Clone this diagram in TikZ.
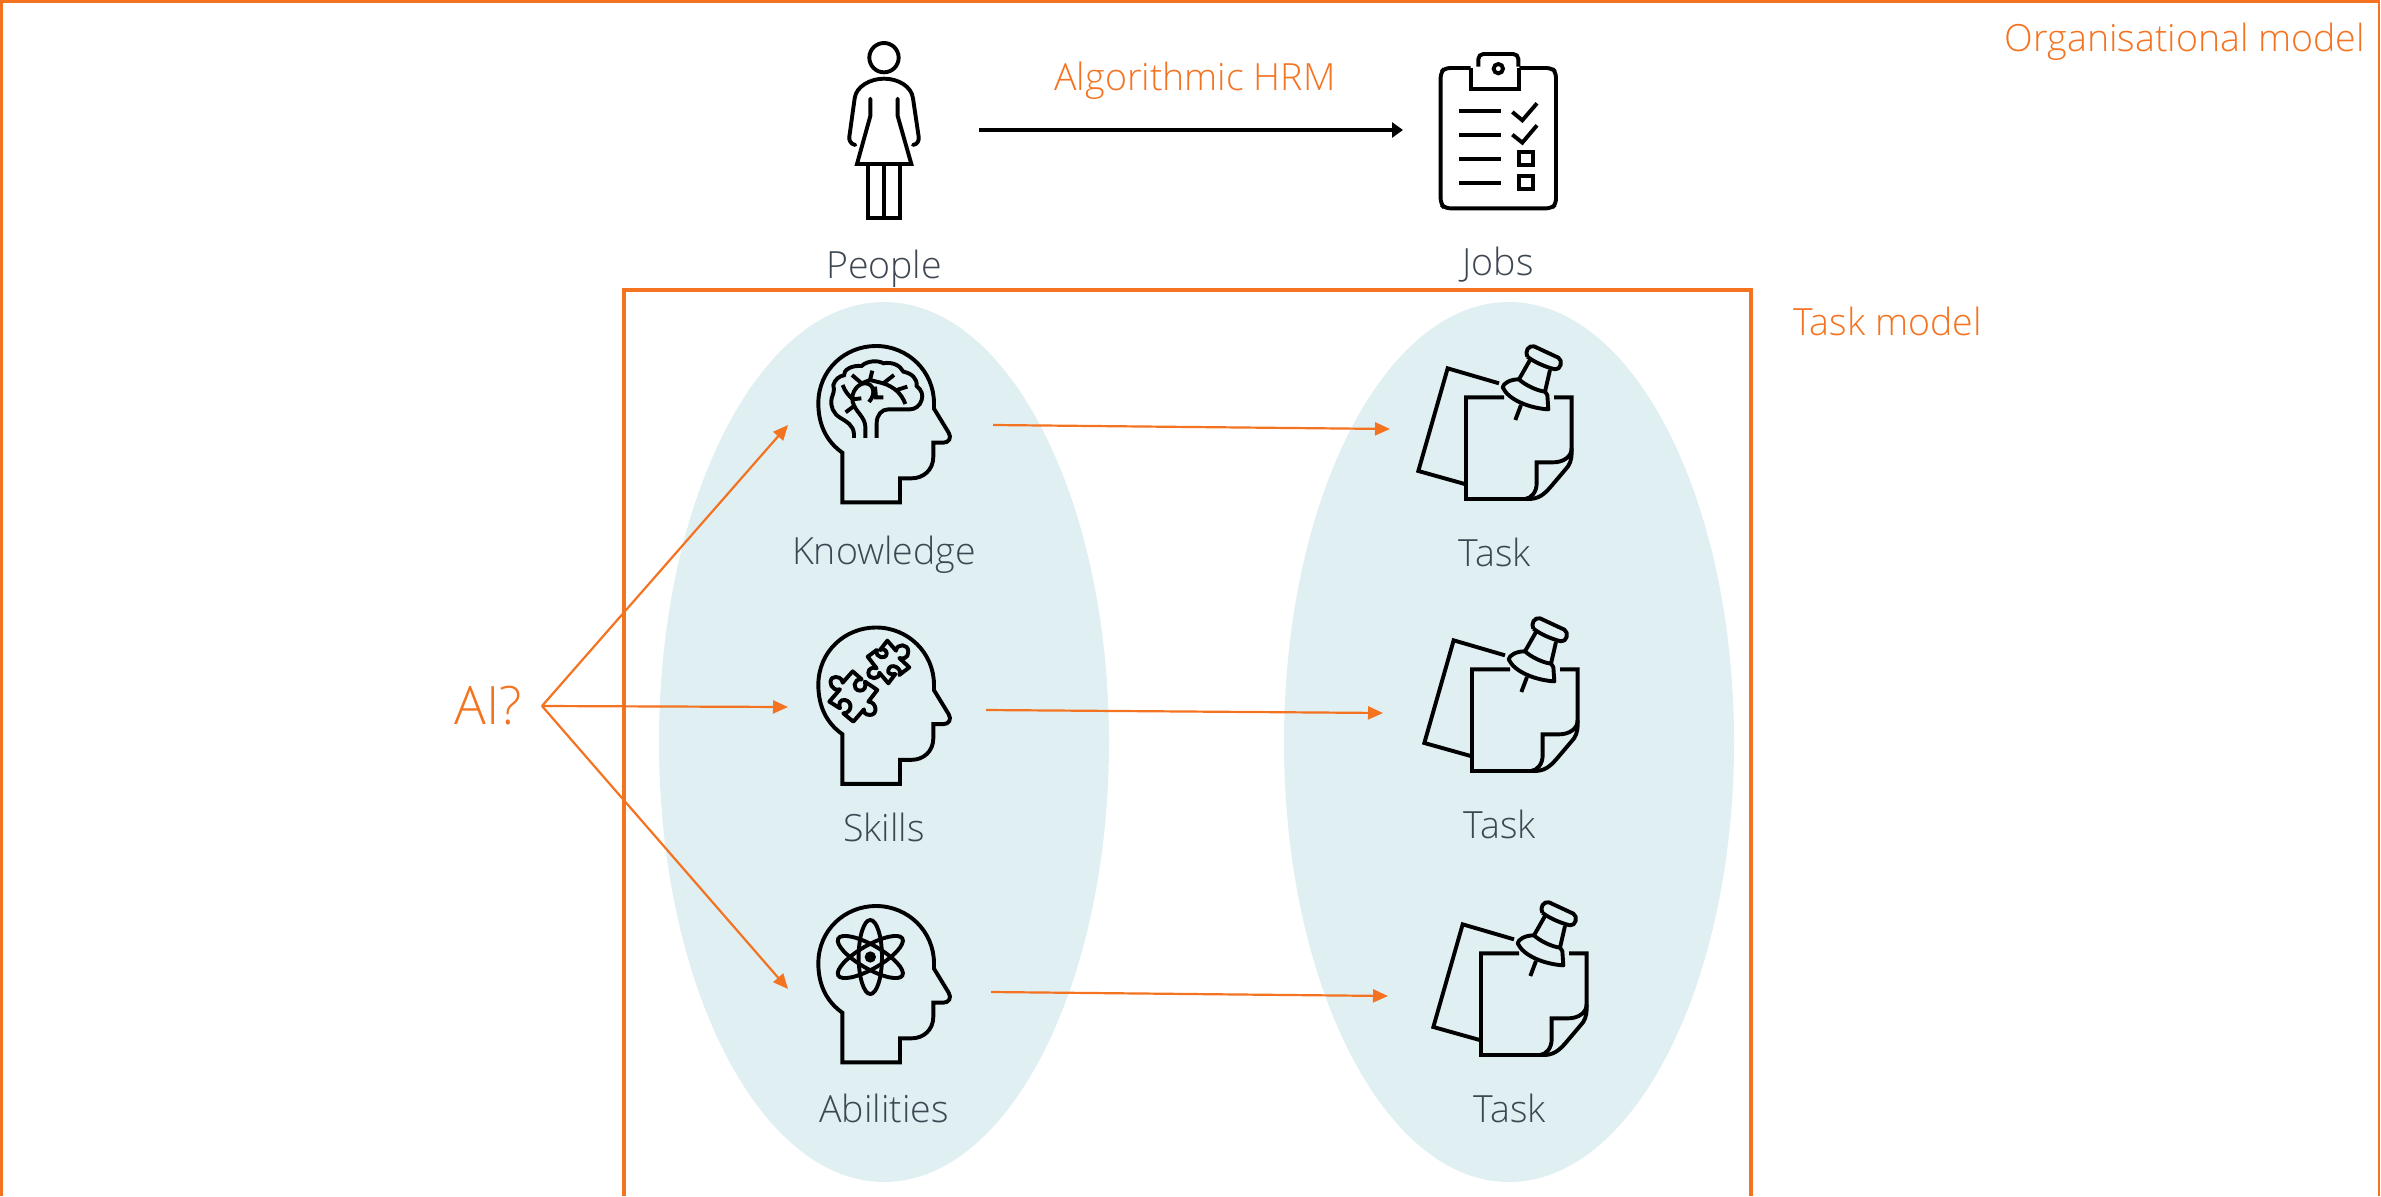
\documentclass[tikz,border=0pt]{standalone}
\usepackage{fontspec}
\setmainfont{Open Sans Light}
\usetikzlibrary{arrows.meta}
\definecolor{hrmorange}{HTML}{F47320}
\definecolor{paleblue}{HTML}{E0EFF2}
\definecolor{labelgrey}{HTML}{3D4752}
\tikzset{
  x=1pt,y=-1pt,
  icon/.style={draw=black,line width=3.9pt,line cap=butt,line join=miter},
  iconb/.style={icon,x=0.3333pt,y=-0.3333pt},
  orangeline/.style={draw=hrmorange,line width=2.2pt,-{Triangle[length=15pt,width=13pt]}},
  frame/.style={draw=hrmorange,line width=3.5pt},
  lab/.style={text=labelgrey,font=\fontsize{37.5}{44}\selectfont,inner sep=0pt,anchor=base},
  olab/.style={text=hrmorange,font=\fontsize{37.5}{44}\selectfont,inner sep=0pt,anchor=base},
  headshape/.pic={
    \draw[iconb] (187,398) .. controls (140,365) and (115,315) .. (115,250)
      .. controls (115,150) and (195,78) .. (288,78)
      .. controls (385,78) and (462,155) .. (462,250) -- (462,266) -- (506,338)
      .. controls (516,354) and (506,368) .. (490,368) -- (460,368) -- (460,410)
      .. controls (460,450) and (430,475) .. (395,475) -- (360,475) -- (360,547) -- (187,547) -- cycle;
  },
  notepic/.pic={
    \draw[iconb] (327,190) -- (173,145) -- (85,453) -- (224,492);
    \draw[iconb] (342,232) -- (228,232) -- (228,537) -- (415,537)
      .. controls (445,537) and (460,525) .. (480,503) -- (525,450)
      .. controls (540,435) and (545,420) .. (545,395) -- (545,232) -- (492,232);
    \draw[iconb] (405,537) .. controls (425,535) and (440,515) .. (440,490) -- (440,427) -- (490,427)
      .. controls (520,427) and (545,410) .. (545,385);
    \draw[iconb,line join=round] (412,110) .. controls (404,95) and (415,75) .. (432,79) -- (505,113)
      .. controls (520,122) and (512,150) .. (495,148) .. controls (470,142) and (435,128) .. (412,110);
    \draw[iconb,line join=round] (420,120) -- (387,178) .. controls (405,195) and (440,212) .. (465,215) -- (480,150);
    \draw[iconb,line join=round] (387,178) .. controls (360,178) and (340,190) .. (338,202)
      .. controls (355,240) and (420,265) .. (475,268) -- (472,225) -- (465,215);
    \draw[iconb] (393,255) -- (376,300);
  },
}
\begin{document}
\begin{tikzpicture}
\useasboundingbox (0,0) rectangle (2381,1196);
% frames and ellipses
\draw[draw=hrmorange,line width=2.6pt] (1.2,1196) -- (1.2,1.3) -- (2379,1.3) -- (2379,1196);
\fill[paleblue] (884,742) ellipse [x radius=225,y radius=440];
\fill[paleblue] (1509,742) ellipse [x radius=225,y radius=440];
\draw[frame] (624,1196) -- (624,290) -- (1751,290) -- (1751,1196);
% labels
\node[olab,anchor=base east] (orgmodel) at (2365,52) {Organisational model};
\node[olab,anchor=base west] (taskmodel) at (1793,335) {Task model};
\node[olab] (hrm) at (1195,91) {Algorithmic HRM};
\node[lab] (people) at (884,278) {People};
\node[lab] (jobs) at (1498,275) {Jobs};
\node[lab] (know) at (884,564.5) {Knowledge};
\node[lab] (skills) at (884,841.5) {Skills};
\node[lab] (abil) at (884,1122.5) {Abilities};
\node[lab] (task1) at (1495,566.5) {Task};
\node[lab] (task2) at (1500,838.5) {Task};
\node[lab] (task3) at (1510,1122.5) {Task};
\node[olab,font=\fontsize{53}{60}\selectfont] (ai) at (488,724) {AI?};
% person
\begin{scope}[shift={(820,30)},x=0.3333pt,y=-0.3333pt]
\draw[icon] (192,83) circle [radius=44];
\draw[icon,line cap=round] (151,206) -- (151,258) -- (111,402) -- (274,402) -- (233,258) -- (233,206);
\draw[icon,line cap=round,line join=round] (106,345) .. controls (92,343) and (86,330) .. (88,320) -- (104,205)
  .. controls (108,170) and (150,146) .. (192,146) .. controls (235,146) and (275,170) .. (279,205) -- (296,320)
  .. controls (298,332) and (292,343) .. (279,345);
\draw[icon] (143,402) -- (143,565) -- (241,565) -- (241,402);
\draw[icon] (192,402) -- (192,565);
\end{scope}
% clipboard
\begin{scope}[shift={(1420,40)},x=0.3333pt,y=-0.3333pt]
\draw[icon,rounded corners=5pt] (152,84) -- (75,84) -- (62,97) -- (62,492) -- (75,505) -- (395,505) -- (408,492) -- (408,97) -- (395,84) -- (298,84);
\draw[icon] (152,84) -- (152,146) -- (298,146) -- (298,84);
\draw[icon,rounded corners=5pt] (175,80) -- (175,42) -- (295,42) -- (295,80);
\draw[icon] (235,86) circle [radius=14];
\foreach \yy in {213,284,356,428} \draw[icon] (117,\yy) -- (243,\yy);
\draw[icon] (277,216) -- (307,241) -- (351,190);
\draw[icon] (277,284) -- (307,308) -- (351,256);
\draw[icon] (298,337) rectangle (338,376);
\draw[icon] (298,407) rectangle (338,446);
\end{scope}
% heads
\pic at (780,320) {headshape};
\pic at (780,601.5) {headshape};
\pic at (780,880) {headshape};
% brain
\begin{scope}[shift={(780,320)},x=0.3333pt,y=-0.3333pt]
\draw[icon] (222,354) -- (222,342) .. controls (220,315) and (200,305) .. (180,293)
 .. controls (160,280) and (150,260) .. (155,235) .. controls (158,222) and (165,215) .. (160,195)
 .. controls (165,178) and (178,168) .. (192,166) .. controls (190,150) and (215,135) .. (245,138)
 .. controls (260,122) and (295,120) .. (310,130) .. controls (335,125) and (360,135) .. (370,155)
 .. controls (395,160) and (412,175) .. (410,198) .. controls (425,210) and (430,225) .. (425,240)
 .. controls (420,258) and (405,268) .. (390,268) -- (325,268) .. controls (305,268) and (290,285) .. (290,310) -- (290,354);
\draw[icon] (256,354) -- (256,320) .. controls (255,290) and (225,275) .. (218,245)
 .. controls (212,215) and (235,190) .. (255,190) .. controls (280,190) and (290,220) .. (267,246);
\draw[icon] (188,195) .. controls (195,215) and (205,225) .. (218,238) -- (244,235);
\draw[icon] (197,277) -- (222,258);
\draw[icon] (216,165) -- (245,190) -- (270,180) -- (277,152);
\draw[icon] (270,180) -- (310,190) -- (342,165);
\draw[icon] (310,190) .. controls (340,200) and (365,220) .. (376,252);
\draw[icon] (350,210) -- (382,200);
\draw[icon] (285,200) -- (288,232) -- (310,232);
\end{scope}
% puzzle
\begin{scope}[shift={(780,600)},x=0.3333pt,y=-0.3333pt]
\draw[icon,line join=round] (322,122) -- (348,152) .. controls (350,130) and (385,130) .. (385,155)
 .. controls (385,175) and (368,178) .. (358,174) -- (388,202) -- (358,225)
 .. controls (370,205) and (330,185) .. (325,210) .. controls (320,220) and (335,225) .. (346,222) -- (325,250)
 -- (298,218) .. controls (300,240) and (265,240) .. (265,218) .. controls (265,205) and (280,200) .. (290,205)
 -- (263,170) -- (290,150) .. controls (285,175) and (320,180) .. (320,160) .. controls (320,150) and (310,145) .. (300,150) -- cycle;
\draw[icon,line join=round] (218,214) -- (245,238) .. controls (220,235) and (215,270) .. (240,272)
 .. controls (255,272) and (258,260) .. (255,245) -- (292,270) -- (265,305)
 .. controls (290,305) and (295,345) .. (270,345) .. controls (255,345) and (250,335) .. (252,328)
 -- (220,365) -- (190,340) .. controls (215,340) and (220,305) .. (195,300) .. controls (180,298) and (175,310) .. (180,325)
 -- (148,305) -- (180,268) .. controls (155,275) and (145,245) .. (155,235) .. controls (170,225) and (188,235) .. (188,248) -- cycle;
\end{scope}
% atom
\begin{scope}[shift={(780,880)},x=0.3333pt,y=-0.3333pt]
\draw[icon] (271,231) ellipse [x radius=35,y radius=111];
\draw[icon] (271,231) ellipse [x radius=111,y radius=35,rotate=-30];
\draw[icon] (271,231) ellipse [x radius=111,y radius=35,rotate=30];
\fill (271,231) circle [radius=17];
\end{scope}
% notes
\pic at (1390,320) {notepic};
\pic at (1396,592) {notepic};
\pic at (1405,876) {notepic};
% connectors
\coordinate (aiout) at (542,706);
\coordinate (hKnow) at (788,425);
\coordinate (hSkill) at (788,707);
\coordinate (hAbil) at (788,989);
\draw[orangeline] (aiout) -- (hKnow);
\draw[orangeline] (aiout) -- (hSkill);
\draw[orangeline] (aiout) -- (hAbil);
\coordinate (k1) at (993,425); \coordinate (t1) at (1390,429);
\coordinate (k2) at (986,710); \coordinate (t2) at (1383,713);
\coordinate (k3) at (991,992); \coordinate (t3) at (1388,996);
\draw[orangeline] (k1) -- (t1);
\draw[orangeline] (k2) -- (t2);
\draw[orangeline] (k3) -- (t3);
\coordinate (pa) at (979,130); \coordinate (pb) at (1403,130);
\draw[draw=black,line width=3.6pt,-{Triangle[length=11pt,width=15pt]}] (pa) -- (pb);
\end{tikzpicture}
\end{document}
